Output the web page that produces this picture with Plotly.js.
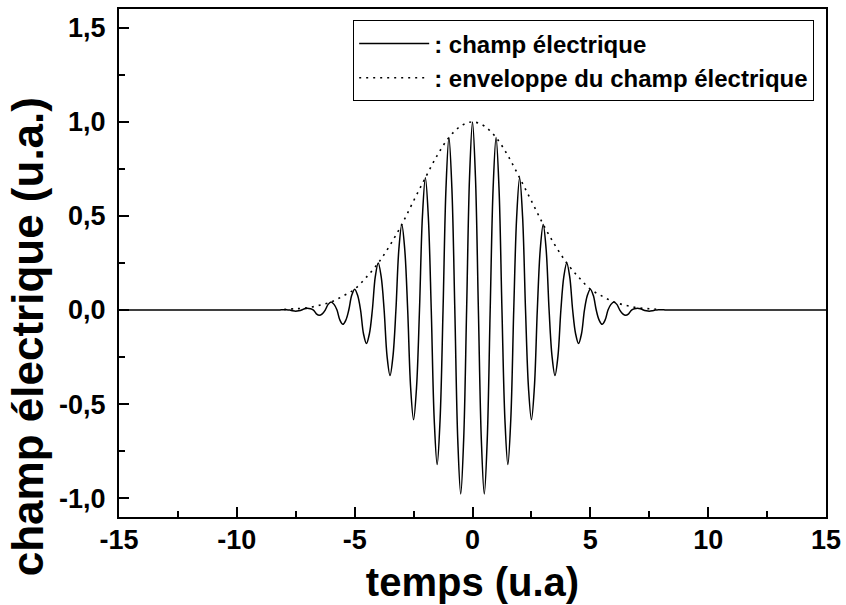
<!DOCTYPE html>
<html>
<head>
<meta charset="utf-8">
<script src="https://cdn.plot.ly/plotly-3.0.1.min.js"></script>
<style>html,body{margin:0;padding:0;background:#fff;}#chart{width:846px;height:605px;}</style>
</head>
<body>
<div id="chart"></div>
<script>
// temps (u.a) for the electric field curve
const fieldTime = [-15, -10, -9,
  -8.25, -8.125, -8, -7.875, -7.75, -7.625, -7.5, -7.375, -7.25, -7.125, -7, -6.875,
  -6.75, -6.625, -6.5, -6.375, -6.25, -6.125, -6, -5.875, -5.75, -5.625, -5.5, -5.375,
  -5.25, -5.125, -5, -4.875, -4.75, -4.625, -4.5, -4.375, -4.25, -4.125, -4, -3.875,
  -3.75, -3.625, -3.5, -3.375, -3.25, -3.125, -3, -2.875, -2.75, -2.625, -2.5, -2.375,
  -2.25, -2.125, -2, -1.875, -1.75, -1.625, -1.5, -1.375, -1.25, -1.125, -1, -0.875,
  -0.75, -0.625, -0.5, -0.375, -0.25, -0.125, 0, 0.125,
  0.25, 0.375, 0.5, 0.625, 0.75, 0.875, 1, 1.125, 1.25, 1.375, 1.5, 1.625,
  1.75, 1.875, 2, 2.125, 2.25, 2.375, 2.5, 2.625, 2.75, 2.875, 3, 3.125,
  3.25, 3.375, 3.5, 3.625, 3.75, 3.875, 4, 4.125, 4.25, 4.375, 4.5, 4.625,
  4.75, 4.875, 5, 5.125, 5.25, 5.375, 5.5, 5.625, 5.75, 5.875, 6, 6.125,
  6.25, 6.375, 6.5, 6.625, 6.75, 6.875, 7, 7.125, 7.25, 7.375, 7.5, 7.625,
  7.75, 7.875, 8, 8.125, 8.25, 9, 10, 15];
// champ électrique (u.a.)
const fieldValue = [0, 0, 0,
  0, 0.001, 0.002, 0.001, 0, -0.004, -0.006, -0.004, 0, 0.007, 0.010, 0.007,
  0, -0.020, -0.028, -0.020, 0, 0.030, 0.043, 0.030, 0, -0.054, -0.076, -0.054,
  0, 0.078, 0.111, 0.078, 0, -0.126, -0.178, -0.126, 0, 0.177, 0.250, 0.177,
  0, -0.246, -0.348, -0.246, 0, 0.322, 0.455, 0.322, 0, -0.412, -0.583, -0.412,
  0, 0.497, 0.703, 0.497, 0, -0.580, -0.821, -0.580, 0, 0.648, 0.917, 0.648,
  0, -0.690, -0.978, -0.690, 0, 0.707, 1.000, 0.707,
  0, -0.690, -0.978, -0.690, 0, 0.648, 0.917, 0.648, 0, -0.580, -0.821, -0.580,
  0, 0.497, 0.703, 0.497, 0, -0.412, -0.583, -0.412, 0, 0.322, 0.455, 0.322,
  0, -0.246, -0.348, -0.246, 0, 0.177, 0.250, 0.177, 0, -0.126, -0.178, -0.126,
  0, 0.078, 0.111, 0.078, 0, -0.054, -0.076, -0.054, 0, 0.030, 0.043, 0.030,
  0, -0.020, -0.028, -0.020, 0, 0.007, 0.010, 0.007, 0, -0.004, -0.006, -0.004,
  0, 0.001, 0.002, 0.001, 0, 0, 0, 0];
// envelope of the electric field
const envTime = [-8, -7.5, -7, -6.5, -6, -5.5, -5, -4.5, -4, -3.5, -3, -2.5, -2, -1.5, -1, -0.5, 0, 0.5, 1, 1.5, 2, 2.5, 3, 3.5, 4, 4.5, 5, 5.5, 6, 6.5, 7, 7.5, 8];
const envValue = [0.003, 0.007, 0.012, 0.025, 0.043, 0.074, 0.111, 0.175, 0.250, 0.345, 0.455, 0.580, 0.703, 0.821, 0.917, 0.978, 1.000, 0.978, 0.917, 0.821, 0.703, 0.580, 0.455, 0.345, 0.250, 0.175, 0.111, 0.074, 0.043, 0.025, 0.012, 0.007, 0.003];
const seriesNames = [': champ électrique', ': enveloppe du champ électrique'];
const xTickVals = [-15, -10, -5, 0, 5, 10, 15];
const xTickText = ['-15', '-10', '-5', '0', '5', '10', '15'];
const yTickVals = [-1.0, -0.5, 0.0, 0.5, 1.0, 1.5];
const yTickText = ['-1,0', '-0,5', '0,0', '0,5', '1,0', '1,5'];
const xTitle = 'temps (u.a)';
const yTitle = 'champ électrique (u.a.)';

const FONT = 'Liberation Sans, Arial, sans-serif';
const traces = [
  {x: fieldTime, y: fieldValue, name: seriesNames[0], type: 'scatter', mode: 'lines',
   line: {color: '#000', width: 1.5, shape: 'spline', smoothing: 1}},
  {x: envTime, y: envValue, name: seriesNames[1], type: 'scatter', mode: 'lines',
   line: {color: '#000', width: 1.6, dash: '2px,5px', shape: 'spline', smoothing: 1}}
];
const layout = {
  width: 846, height: 605,
  margin: {l: 119, r: 20, t: 9, b: 88},
  paper_bgcolor: '#fff', plot_bgcolor: '#fff',
  font: {family: FONT, color: '#000', weight: 'bold'},
  showlegend: true,
  legend: {x: 0.983, xanchor: 'right', y: 0.978, yanchor: 'top', bgcolor: '#fff',
    bordercolor: '#000', borderwidth: 1.2, font: {family: FONT, size: 24, color: '#000', weight: 'bold'},
    itemwidth: 70, tracegroupgap: 0},
  xaxis: {range: [-15, 15], tickmode: 'array', tickvals: xTickVals, ticktext: xTickText,
    ticks: 'inside', ticklen: 10, tickwidth: 2, tickcolor: '#000',
    minor: {ticks: 'inside', ticklen: 6, tickwidth: 2, tickcolor: '#000', dtick: 2.5, tick0: 0, showgrid: false},
    showline: true, linecolor: '#000', linewidth: 2, mirror: true, showgrid: false, zeroline: false,
    tickfont: {family: FONT, size: 27, color: '#000', weight: 'bold'}, ticklabelstandoff: -2,
    title: {text: xTitle, font: {family: FONT, size: 40, color: '#000', weight: 'bold'}, standoff: 14}},
  yaxis: {range: [-1.1, 1.6], tickmode: 'array', tickvals: yTickVals, ticktext: yTickText,
    ticks: 'inside', ticklen: 10, tickwidth: 2, tickcolor: '#000',
    minor: {ticks: 'inside', ticklen: 6, tickwidth: 2, tickcolor: '#000', dtick: 0.25, tick0: 0, showgrid: false},
    showline: true, linecolor: '#000', linewidth: 2, mirror: true, showgrid: false, zeroline: false,
    tickfont: {family: FONT, size: 27, color: '#000', weight: 'bold'}, ticklabelstandoff: 6},
  annotations: [{text: yTitle, xref: 'paper', yref: 'paper', x: -0.130, y: 0.354,
    xanchor: 'center', yanchor: 'middle', textangle: -90, showarrow: false,
    font: {family: FONT, size: 44, color: '#000', weight: 'bold'}}]
};
Plotly.newPlot('chart', traces, layout, {displayModeBar: false, staticPlot: true});
</script>
</body>
</html>
